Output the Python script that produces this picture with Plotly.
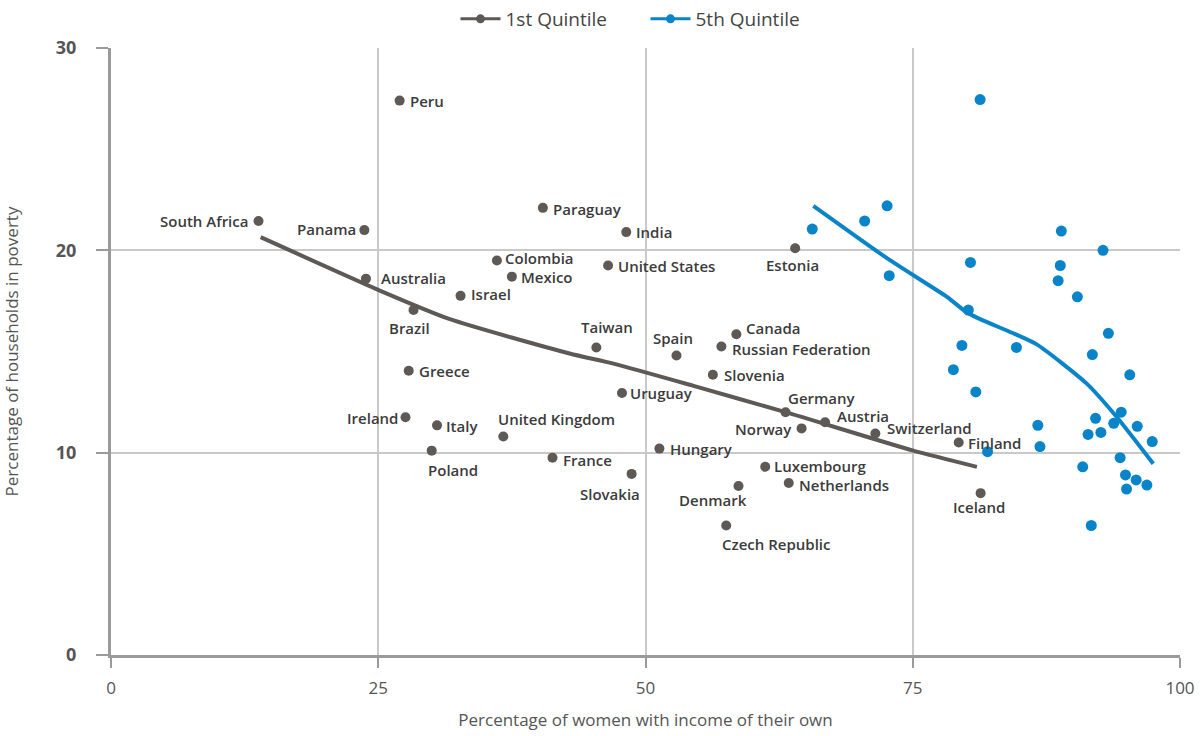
import plotly.graph_objects as go

# ---------------- data ----------------
countries = ["South Africa", "Panama", "Peru", "Paraguay", "India", "Colombia", "Mexico",
             "United States", "Australia", "Israel", "Brazil", "Taiwan", "Greece", "Spain",
             "Canada", "Russian Federation", "Slovenia", "Uruguay", "Estonia", "Germany",
             "Austria", "Norway", "Switzerland", "Finland", "Hungary", "Luxembourg",
             "Netherlands", "Denmark", "Slovakia", "Czech Republic", "France", "Ireland",
             "Italy", "United Kingdom", "Poland", "Iceland"]
q1_x = [13.8, 23.7, 27.0, 40.4, 48.2, 36.1, 37.5, 46.5, 23.85, 32.7, 28.3, 45.4, 27.85, 52.9,
        58.5, 57.1, 56.3, 47.8, 64.0, 63.1, 66.8, 64.6, 71.5, 79.3, 51.3, 61.2, 63.4, 58.7,
        48.7, 57.55, 41.3, 27.55, 30.5, 36.7, 30.0, 81.35]
q1_y = [21.45, 21.0, 27.4, 22.1, 20.9, 19.5, 18.7, 19.25, 18.6, 17.75, 17.05, 15.2, 14.05, 14.8,
        15.85, 15.25, 13.85, 12.95, 20.1, 12.0, 11.5, 11.2, 10.95, 10.5, 10.2, 9.3, 8.5, 8.35,
        8.95, 6.4, 9.75, 11.75, 11.35, 10.8, 10.1, 8.0]

q5_x = [81.3, 65.6, 70.5, 72.6, 72.8, 88.9, 92.8, 80.4, 88.8, 88.6, 90.4, 80.2, 93.3, 79.6,
        84.7, 91.8, 78.8, 95.3, 80.9, 94.5, 92.1, 93.8, 96.0, 86.7, 92.6, 91.4, 97.4, 86.9,
        82.0, 94.4, 90.9, 94.9, 95.9, 96.9, 95.0, 91.7]
q5_y = [27.45, 21.05, 21.45, 22.2, 18.75, 20.95, 20.0, 19.4, 19.25, 18.5, 17.7, 17.05, 15.9,
        15.3, 15.2, 14.85, 14.1, 13.85, 13.0, 12.0, 11.7, 11.45, 11.3, 11.35, 11.0, 10.9,
        10.55, 10.3, 10.05, 9.75, 9.3, 8.9, 8.65, 8.4, 8.2, 6.4]

q1_trend_x = [14.0, 25.2, 31.7, 42.9, 47.0, 54.5, 63.1, 75.05, 81.0]
q1_trend_y = [20.65, 18.0, 16.6, 14.9, 14.4, 13.3, 12.0, 10.1, 9.3]

q5_trend_x = [65.7, 72.9, 78.2, 80.0, 81.3, 84.4, 86.6, 91.3, 94.1, 97.5]
q5_trend_y = [22.2, 19.5, 17.7, 16.95, 16.6, 15.9, 15.35, 13.4, 11.75, 9.45]

x_ticks = [0, 25, 50, 75, 100]
y_ticks = [0, 10, 20, 30]

# ---------------- style ----------------
GREY = "#5f5955"
BLUE = "#0a84c8"
LABEL = "#3b3b3b"
PLOT_H = 736 - 48 - 81

# label placement: (xanchor, dx px, dy px upward)
label_pos = {
    "South Africa": ("right", -9, 0), "Panama": ("right", -6, 1), "Peru": ("left", 8, 0),
    "Paraguay": ("left", 8, -1), "India": ("left", 8, 0), "Colombia": ("left", 6, 2),
    "Mexico": ("left", 7, 0), "United States": ("left", 8, 0), "Australia": ("left", 13, 1),
    "Israel": ("left", 8, 2), "Brazil": ("center", -4, -18), "Taiwan": ("center", 11, 20),
    "Greece": ("left", 8, 0), "Spain": ("center", -4, 18), "Canada": ("left", 8, 6),
    "Russian Federation": ("left", 9, -3), "Slovenia": ("left", 9, 0), "Uruguay": ("left", 6, 0),
    "Estonia": ("center", -3, -17), "Germany": ("left", 0, 14), "Austria": ("left", 10, 6),
    "Norway": ("right", -8, -1), "Switzerland": ("left", 10, 5), "Finland": ("left", 7, 0),
    "Hungary": ("left", 9, 0), "Luxembourg": ("left", 7, 1), "Netherlands": ("left", 8, -2),
    "Denmark": ("center", -26, -14), "Slovakia": ("center", -22, -20),
    "Czech Republic": ("left", -6, -18), "France": ("left", 8, -2), "Ireland": ("right", -6, -1),
    "Italy": ("left", 7, -1), "United Kingdom": ("left", -7, 17), "Poland": ("left", -6, -19),
    "Iceland": ("center", -2, -14),
}

fig = go.Figure()

# legend-only entries (line with dot)
fig.add_trace(go.Scatter(x=[None], y=[None], mode="lines+markers", name="1st Quintile",
                         line=dict(color=GREY, width=3), marker=dict(color=GREY, size=9)))
fig.add_trace(go.Scatter(x=[None], y=[None], mode="lines+markers", name="5th Quintile",
                         line=dict(color=BLUE, width=3), marker=dict(color=BLUE, size=9)))

fig.add_trace(go.Scatter(x=q1_trend_x, y=q1_trend_y, mode="lines", showlegend=False,
                         line=dict(color=GREY, width=4, shape="spline", smoothing=0.6),
                         hoverinfo="skip"))
fig.add_trace(go.Scatter(x=q5_trend_x, y=q5_trend_y, mode="lines", showlegend=False,
                         line=dict(color=BLUE, width=4, shape="spline", smoothing=0.6),
                         hoverinfo="skip"))
fig.add_trace(go.Scatter(x=q1_x, y=q1_y, mode="markers", showlegend=False, text=countries,
                         marker=dict(color=GREY, size=10)))
fig.add_trace(go.Scatter(x=q5_x, y=q5_y, mode="markers", showlegend=False,
                         marker=dict(color=BLUE, size=11)))

for name, xv, yv in zip(countries, q1_x, q1_y):
    xa, dx, dy = label_pos[name]
    fig.add_annotation(x=xv, y=yv, text=name, showarrow=False, xanchor=xa, yanchor="middle",
                       xshift=dx, yshift=dy,
                       font=dict(family="Open Sans", size=15, color=LABEL, weight=600))

fig.update_layout(
    width=1202, height=736,
    margin=dict(l=111, r=22, t=48, b=81, autoexpand=False),
    paper_bgcolor="white", plot_bgcolor="white",
    showlegend=True,
    legend=dict(orientation="h", x=0.5, xanchor="center", y=1 + 48 / PLOT_H, yanchor="top",
                font=dict(family="Open Sans", size=19, color="#444444"),
                itemwidth=40, traceorder="normal", entrywidth=135, entrywidthmode="pixels"),
    xaxis=dict(range=[0, 100], tickvals=x_ticks, ticktext=[str(v) for v in x_ticks],
               automargin=False,
               showgrid=True, gridcolor="#c9c9c9", gridwidth=1.5,
               showline=True, linecolor="#9a9a9a", linewidth=3,
               ticks="outside", ticklen=10, tickwidth=2, tickcolor="#9a9a9a",
               ticklabelstandoff=6, zeroline=False,
               tickfont=dict(family="Open Sans", size=17, color="#555555"),
               title=dict(text="Percentage of women with income of their own", standoff=16,
                          font=dict(family="Open Sans", size=17, color="#555555"))),
    yaxis=dict(range=[0, 30], tickvals=y_ticks, ticktext=[str(v) for v in y_ticks],
               automargin=False,
               showgrid=True, gridcolor="#c9c9c9", gridwidth=1.5,
               showline=True, linecolor="#9a9a9a", linewidth=3,
               ticks="outside", ticklen=12, tickwidth=2, tickcolor="#9a9a9a",
               ticklabelstandoff=16, zeroline=False,
               tickfont=dict(family="Open Sans", size=18, color="#555555", weight=700),
               title=dict(text="Percentage of households in poverty", standoff=34,
                          font=dict(family="Open Sans", size=17, color="#555555"))),
)

fig.write_html("out.html", config={"displayModeBar": False},
               post_script="document.body.style.margin='0';")
